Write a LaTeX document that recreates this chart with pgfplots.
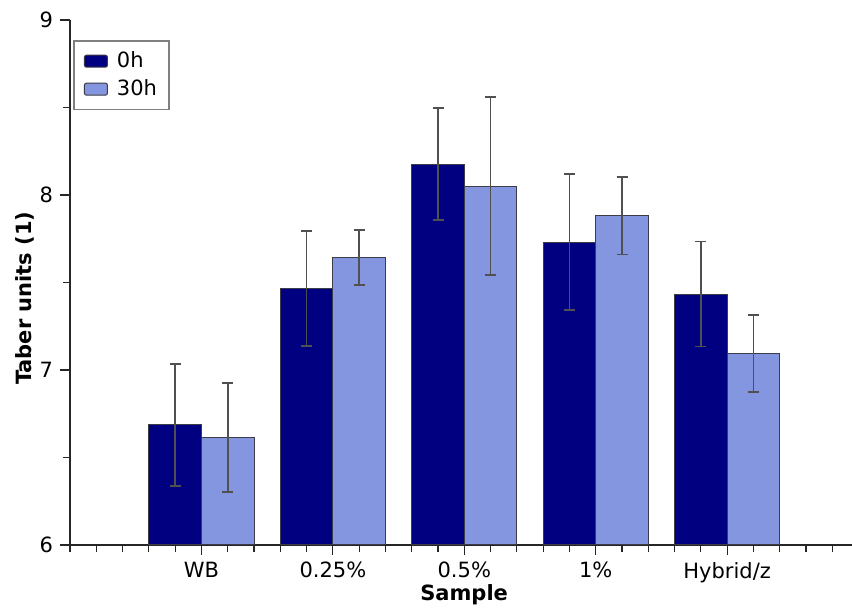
\documentclass[border=0pt]{standalone}
\usepackage{fontspec}
\setmainfont{DejaVu Sans}
\usepackage{pgfplots}
\usepackage{pgfplotstable}
\pgfplotsset{compat=1.18}
\definecolor{navyb}{RGB}{0,0,128}
\definecolor{lightb}{RGB}{133,150,224}
\definecolor{edgec}{RGB}{60,60,70}
\definecolor{errc}{RGB}{80,80,80}
\pgfplotstableread{
x y e
1 6.686 0.35
2 7.465 0.33
3 8.177 0.32
4 7.731 0.39
5 7.434 0.30
}\tzero
\pgfplotstableread{
x y e
1 6.615 0.31
2 7.642 0.157
3 8.051 0.508
4 7.882 0.222
5 7.095 0.219
}\tthirty
\begin{document}
\begin{tikzpicture}
\begin{axis}[
  scale only axis, width=391pt, height=262.5pt,
  xmin=0, xmax=5.95, ymin=6, ymax=9,
  axis x line*=bottom, axis y line*=left,
  axis line style={-, black!85, line width=0.6pt},
  xtick={1,2,3,4,5}, xticklabels={WB,0.25\%,0.5\%,1\%,Hybrid/z},
  minor xtick={0,0.2,0.4,0.6,0.8,1.2,1.4,1.6,1.8,2.2,2.4,2.6,2.8,3.2,3.4,3.6,3.8,4.2,4.4,4.6,4.8,5.2,5.4,5.6,5.8},
  ytick={6,7,8,9}, minor ytick={6.5,7.5,8.5},
  tick align=outside, major tick length=5pt, minor tick length=3.5pt,
  every tick/.style={black!85, line width=0.6pt},
  /pgf/number format/assume math mode=true,
  ticklabel style={font=\fontsize{10.5}{12}\selectfont},
  xlabel={\bfseries Sample}, ylabel={\bfseries Taber units (1)},
  label style={font=\fontsize{10.5}{12}\selectfont},
  xlabel style={at={(axis description cs:0.504,-0.095)}, anchor=center},
  ylabel style={at={(axis description cs:-0.0575,0.47)}, anchor=center},
  legend style={at={(rel axis cs:0.004,0.962)}, anchor=north west, draw=gray, line width=0.8pt,
    font=\fontsize{10.5}{12}\selectfont, inner xsep=4pt, inner ysep=3.5pt, row sep=0.5pt},
  legend cell align=left,
  mybar/.style={ybar, bar width=0.4, bar shift=0pt, draw=edgec, line width=0.5pt,
    legend image code/.code={\draw[##1, rounded corners=1pt] (0pt,-3pt) rectangle (11.5pt,3pt); \path (-1pt,0) (14pt,0);},
    error bars/y dir=both, error bars/y explicit,
    error bars/error bar style={errc, line width=0.9pt},
    error bars/error mark options={rotate=90, mark size=2.75pt, errc, line width=0.9pt}},
]
\addplot[mybar, fill=navyb] table[x expr=\thisrow{x}-0.2, y=y, y error=e] {\tzero};
\addlegendentry{0h}
\addplot[mybar, fill=lightb] table[x expr=\thisrow{x}+0.2, y=y, y error=e] {\tthirty};
\addlegendentry{30h}
\coordinate (bl) at (rel axis cs:0,0);
\coordinate (tr) at (rel axis cs:1,1);
\end{axis}
\pgfresetboundingbox
\path ([shift={(-35pt,-32pt)}]bl) rectangle ([shift={(0pt,10pt)}]tr);
\end{tikzpicture}
\end{document}
